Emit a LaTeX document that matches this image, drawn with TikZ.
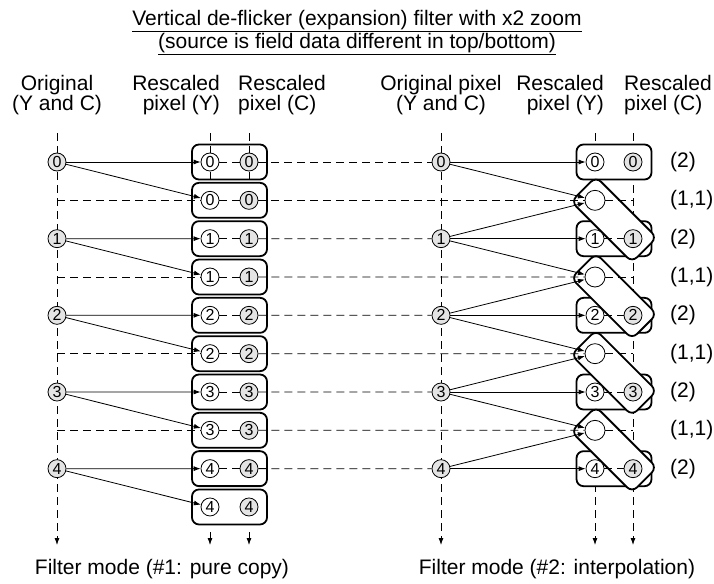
\documentclass[tikz,border=0pt]{standalone}
\usepackage{fontspec}
\setmainfont{Liberation Sans}
\usetikzlibrary{arrows.meta,calc,backgrounds}
\definecolor{pixgray}{HTML}{E4E4E4}
\newcommand{\hdrfont}{\fontsize{21}{20}\selectfont}

\begin{document}
\begin{tikzpicture}[x=1pt, y=-1pt,
  orig/.style={circle, draw, fill=pixgray, line width=0.8pt, inner sep=0pt,
    minimum size=18pt, font=\fontsize{16}{16}\selectfont},
  ypix/.style={orig, fill=white},
  cpix/.style={orig},
  blank/.style={circle, draw, fill=white, line width=0.8pt, inner sep=0pt,
    minimum size=20pt},
  pixbox/.style={draw, rounded corners=7pt, line width=1.8pt, inner sep=0pt,
    minimum width=75pt, minimum height=35pt},
  diagbox/.style={pixbox, fill=white, minimum width=86pt, rotate=-45},
  guide/.style={dash pattern=on 8pt off 5pt, line width=0.8pt},
  conn/.style={-{Latex[length=7pt,width=5pt]}, line width=0.8pt},
  tip/.style={-{Latex[length=7pt,width=5pt]}},
  txt/.style={inner sep=0pt, font=\hdrfont}]
\useasboundingbox (0,0) rectangle (714,583);
% ----- titles -----
\node[txt, align=center, anchor=north, font=\fontsize{21}{23}\selectfont]
  (title) at (357,10)
  {\underline{Vertical de-flicker (expansion) filter with x2 zoom}\\
   \underline{(source is field data different in top/bottom)}};
\node[txt, align=center, anchor=north] (hOL) at (57,75) {Original\\(Y and C)};
\node[txt, align=right, anchor=north east] (hYL) at (220,75) {Rescaled\\pixel (Y)};
\node[txt, align=left, anchor=north west] (hCL) at (238,75) {Rescaled\\pixel (C)};
\node[txt, align=center, anchor=north] (hOR) at (441,75) {Original pixel\\(Y and C)};
\node[txt, align=right, anchor=north east] (hYR) at (604,75) {Rescaled\\pixel (Y)};
\node[txt, align=left, anchor=north west] (hCR) at (624,75) {Rescaled\\pixel (C)};
\node[txt, anchor=base] (modeL) at (162,574) {Filter mode (\#1: pure copy)};
\node[txt, anchor=base] (modeR) at (557,574) {Filter mode (\#2: interpolation)};
% ----- left: pure copy -----
\foreach \k in {0,...,4}{
  \node[orig] (oL\k) at (57,{162+76.67*\k}) {\k};
}
\foreach \r [evaluate=\r as \d using int(\r/2)] in {0,...,9}{
  \node[ypix] (yL\r) at (210,{162+38.33*\r}) {\d};
  \node[cpix] (cL\r) at (249,{162+38.33*\r}) {\d};
}
% ----- right: interpolation -----
\foreach \k in {0,...,4}{
  \node[orig] (oR\k) at (441,{162+76.67*\k}) {\k};
  \node[ypix] (yR\k) at (595,{162+76.67*\k}) {\k};
  \node[cpix] (cR\k) at (633,{162+76.67*\k}) {\k};
  \node[txt, anchor=west] (wR\k) at (670,{162+76.67*\k}) {(2)};
}
\foreach \j in {0,...,3}{
  \node[blank] (eR\j) at (595,{200.33+76.67*\j}) {};
  \node[txt, anchor=west] (wE\j) at (670,{200.33+76.67*\j}) {(1,1)};
}
% ----- guides and boxes behind -----
\begin{pgfonlayer}{background}
\foreach \x/\n in {57/oL, 441/oR, 595/yR, 633/cR}{
  \coordinate (top\n) at (\x,133);
  \coordinate (bot\n) at (\x,545);
  \draw[guide, tip] (top\n) -- (bot\n);
}
\foreach \x/\n in {210/yL, 249/cL}{
  \coordinate (top\n) at (\x,133);
  \coordinate (mid\n) at (\x,180);
  \draw[guide] (top\n) -- (mid\n);
}
\foreach \r in {0,...,9}{
  \node[pixbox] (bL\r) at ($(yL\r)!0.5!(cL\r)$) {};
}
\foreach \k in {0,...,4}{
  \node[pixbox, fill=white] (bR\k) at ($(yR\k)!0.5!(cR\k)$) {};
}
\foreach \j [evaluate=\j as \n using int(\j+1)] in {0,...,3}{
  \node[diagbox] (dR\j) at ($(eR\j)!0.5!(cR\n)$) {};
}
\end{pgfonlayer}
% ----- dashed rows -----
\foreach \r in {1,3,5,7}{
  \coordinate (vL\r) at (57,{162+38.33*\r});
  \draw[guide] (vL\r) -- (yL\r);
}
\foreach \r in {0,...,8}{
  \draw[guide] (yL\r) -- (cL\r);
}
\foreach \k [evaluate=\k as \r using int(2*\k)] in {0,...,4}{
  \draw[guide] (cL\r) -- (oR\k);
}
\foreach \j [evaluate=\j as \r using int(2*\j+1)] in {0,...,3}{
  \draw[guide] (cL\r) -- (eR\j);
  \coordinate (eC\j) at (633,{200.33+76.67*\j});
  \draw[guide] (eR\j) -- (eC\j);
}
\foreach \k in {1,...,4}{
  \draw[guide] (yR\k) -- (cR\k);
}
% ----- arrows -----
\foreach \k [evaluate=\k as \r using int(2*\k),
             evaluate=\k as \s using int(2*\k+1)] in {0,...,4}{
  \draw[conn] (oL\k) -- (yL\r);
  \draw[conn] (oL\k) -- (yL\s);
  \draw[conn] (oR\k) -- (yR\k);
}
\foreach \j [evaluate=\j as \n using int(\j+1)] in {0,...,3}{
  \draw[conn] (oR\j) -- (eR\j);
  \draw[conn] (oR\n) -- (eR\j);
}
\foreach \x/\n in {210/yL, 249/cL}{
  \coordinate (low\n) at (\x,532);
  \coordinate (bot\n) at (\x,545);
  \draw[conn] (low\n) -- (bot\n);
}
\end{tikzpicture}
\end{document}
